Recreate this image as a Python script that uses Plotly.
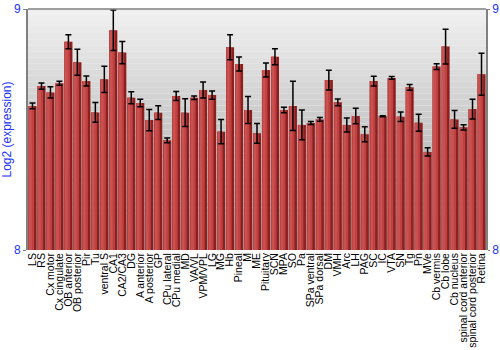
import plotly.graph_objects as go

regions = ["LS", "RS", "Cx motor", "Cx cingulate", "OB anterior", "OB posterior", "Pir", "Tu",
           "ventral S", "CA1", "CA2/CA3", "DG", "A anterior", "A posterior", "GP", "CPu lateral",
           "CPu medial", "MD", "VA/VL", "VPM/VPL", "LG", "MG", "Hb", "Pineal", "M", "ME",
           "Pituitary", "SCN", "MPA", "SO", "Pa", "SPa ventral", "SPa dorsal", "DM", "VMH", "Arc",
           "LH", "PAG", "SC", "IC", "VTA", "SN", "Tg", "Pn", "MVe", "Cb vermis", "Cb lobe",
           "Cb nucleus", "spinal cord anterior", "spinal cord posterior", "Retina"]

expression = [8.598, 8.680, 8.654, 8.692, 8.864, 8.779, 8.701, 8.571,
              8.708, 8.912, 8.819, 8.632, 8.610, 8.539, 8.570, 8.455,
              8.639, 8.570, 8.632, 8.664, 8.643, 8.491, 8.841, 8.772, 8.581, 8.484,
              8.747, 8.802, 8.581, 8.598, 8.519, 8.527, 8.542, 8.705, 8.613, 8.519,
              8.556, 8.480, 8.701, 8.555, 8.714, 8.553, 8.675, 8.528, 8.407, 8.761, 8.844,
              8.542, 8.509, 8.585, 8.729]

error = [0.012, 0.013, 0.023, 0.008, 0.029, 0.054, 0.021, 0.041,
         0.054, 0.084, 0.046, 0.025, 0.016, 0.044, 0.029, 0.010,
         0.019, 0.058, 0.007, 0.033, 0.017, 0.050, 0.052, 0.029, 0.056, 0.041,
         0.029, 0.033, 0.011, 0.102, 0.062, 0.006, 0.008, 0.041, 0.014, 0.029,
         0.032, 0.031, 0.020, 0.002, 0.006, 0.020, 0.012, 0.035, 0.017, 0.012, 0.072,
         0.037, 0.011, 0.041, 0.087]

y_range = [8, 9]
y_ticks = [8, 9]

fig = go.Figure()

base = [y_range[0]] * len(regions)
heights = [v - y_range[0] for v in expression]

# cylindrical shading of bars: dark base, lighter left part, highlight
fig.add_trace(go.Bar(x=regions, y=heights, base=base, width=0.9, offset=-0.45,
                     marker=dict(color="#8e1f1f", line=dict(width=0)), showlegend=False,
                     hoverinfo="skip"))
fig.add_trace(go.Bar(x=regions, y=heights, base=base, width=0.62, offset=-0.45,
                     marker=dict(color="#bf4242", line=dict(width=0)), showlegend=False,
                     hoverinfo="skip"))
fig.add_trace(go.Bar(x=regions, y=heights, base=base, width=0.22, offset=-0.3,
                     marker=dict(color="#cb5050", line=dict(width=0)), showlegend=False,
                     hoverinfo="skip"))
fig.add_trace(go.Scatter(x=regions, y=expression, mode="markers",
                         marker=dict(size=1, opacity=0),
                         error_y=dict(type="data", array=error, visible=True,
                                      color="black", thickness=1.5, width=3),
                         showlegend=False))
fig.add_trace(go.Scatter(x=[regions[0]], y=[y_range[0]], yaxis="y2", mode="markers",
                         marker=dict(opacity=0), showlegend=False, hoverinfo="skip"))

# vertical gradient background
n = 40
top = (240, 240, 240)
bot = (160, 160, 160)
shapes = []
for i in range(n):
    t = i / (n - 1)
    c = tuple(int(round(top[k] + (bot[k] - top[k]) * t)) for k in range(3))
    y1 = y_range[1] - (y_range[1] - y_range[0]) * i / n
    y0 = y_range[1] - (y_range[1] - y_range[0]) * (i + 1) / n
    shapes.append(dict(type="rect", xref="paper", yref="y", x0=0, x1=1, y0=y0, y1=y1,
                       fillcolor="rgb(%d,%d,%d)" % c, line=dict(width=0), layer="below"))
shapes.append(dict(type="line", xref="paper", yref="paper", x0=0, x1=1, y0=1, y1=1,
                   line=dict(color="#808080", width=1.5)))

blue = "#2233ff"
fig.update_layout(
    width=500, height=350,
    margin=dict(l=28, r=14, t=9, b=100),
    paper_bgcolor="white", plot_bgcolor="white",
    barmode="overlay",
    font=dict(family="Liberation Sans, Arial, sans-serif", size=10.5, color="black"),
    shapes=shapes,
    xaxis=dict(type="category", tickangle=-90, tickfont=dict(size=10.5, color="black"),
               tickmode="array", tickvals=regions, ticktext=regions, automargin=False,
               showgrid=False, zeroline=False, showline=False, ticks="", ticklen=0,
               range=[-0.5, len(regions) - 0.5]),
    yaxis=dict(range=y_range, tickvals=y_ticks, ticktext=[str(t) for t in y_ticks],
               tickfont=dict(size=12, color=blue), showgrid=False, zeroline=False,
               showline=True, linecolor="#808080", linewidth=2, ticks="outside",
               ticklen=3, tickcolor="#808080", automargin=False,
               title=dict(text="Log2 (expression)", font=dict(size=12, color=blue), standoff=4)),
    yaxis2=dict(range=y_range, tickvals=y_ticks, ticktext=[str(t) for t in y_ticks],
                overlaying="y", side="right", tickfont=dict(size=12, color=blue),
                showgrid=False, zeroline=False, showline=True, linecolor="#808080",
                linewidth=1.5, ticks="outside", ticklen=2, tickcolor="#808080",
                automargin=False),
)

fig.write_html("out.html")
